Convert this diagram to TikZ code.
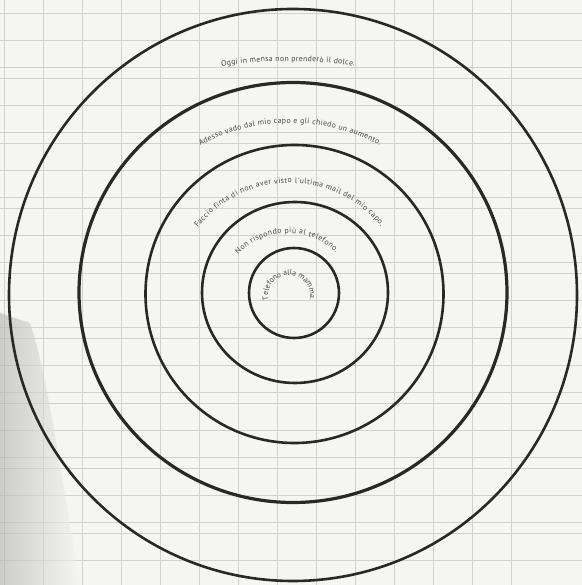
\documentclass[tikz,border=0pt]{standalone}
\usepackage{fontspec}
\newfontfamily\ringfont{PT Sans}
\usetikzlibrary{decorations.text, calc}

\definecolor{paper}{RGB}{245,246,242}
\definecolor{gridgray}{RGB}{208,210,206}
\definecolor{ink}{RGB}{40,40,40}
\definecolor{printgray}{RGB}{70,70,70}

\begin{document}
\begin{tikzpicture}[x=1bp, y=1bp,
    ring/.style={draw=ink, line width=2.6bp},
    gridline/.style={draw=gridgray, line width=0.5bp},
    curvetext/.style={decorate, decoration={text along path, text align={fit to path},
      text={|\fontsize{7.8}{9}\ringfont\color{printgray}|#1}}}
  ]
  \useasboundingbox (0,0) rectangle (582,585);
  \fill[paper] (0,0) rectangle (582,585);

  % squared paper
  \begin{scope}
    \clip (0,0) rectangle (582,585);
    \foreach \k in {0,...,13}
      \draw[gridline] ({4+39*\k},0) -- ({4+39*\k},585);
    \foreach \k in {0,...,8}
      \foreach \o in {13,40,67}
        \draw[gridline] (0,{585-\o-65*\k}) -- (582,{585-\o-65*\k});
    % scan shadow
    \shade[left color=black!30, right color=paper, opacity=0.6]
      (0,0) -- (80,0) .. controls (60,120) and (45,220) .. (30,262) -- (0,272) -- cycle;
  \end{scope}

  % rings
  \coordinate (c1) at (293,290);
  \coordinate (c2) at (293,292.5);
  \coordinate (c3) at (294.5,291);
  \coordinate (c4) at (295,292.5);
  \coordinate (c5) at (294,292);
  \draw[ring] (c1) ellipse [x radius=284, y radius=286];
  \draw[ring, line width=3.2bp] (c2) ellipse [x radius=214, y radius=210];
  \draw[ring] (c3) circle [radius=149];
  \draw[ring] (c4) ellipse [x radius=93, y radius=90.5];
  \draw[ring] (c5) circle [radius=45];

  % texts along the rings
  \coordinate (t1) at (288,99);
  \coordinate (t2) at (290,271);
  \coordinate (t3) at (290,285);
  \coordinate (t4) at (288,284);
  \coordinate (t5) at (289,289);
  \path[curvetext={Oggi in mensa non prenderò il dolce.}]
    ($(t1)+(99:425)$) arc[start angle=99, end angle=81, radius=425];
  \path[curvetext={Adesso vado dal mio capo e gli chiedo un aumento.}]
    ($(t2)+(118:191)$) arc[start angle=118, end angle=62, radius=191];
  \path[curvetext={Faccio finta di non aver visto l'ultima mail del mio capo.}]
    ($(t3)+(142:117)$) arc[start angle=142, end angle=39, radius=117];
  \path[curvetext={Non rispondo più al telefono.}]
    ($(t4)+(137:68)$) arc[start angle=137, end angle=45, radius=68];
  \path[curvetext={Telefono alla mamma.}]
    ($(t5)+(191:21)$) arc[start angle=191, end angle=-11, radius=21];
\end{tikzpicture}
\end{document}
